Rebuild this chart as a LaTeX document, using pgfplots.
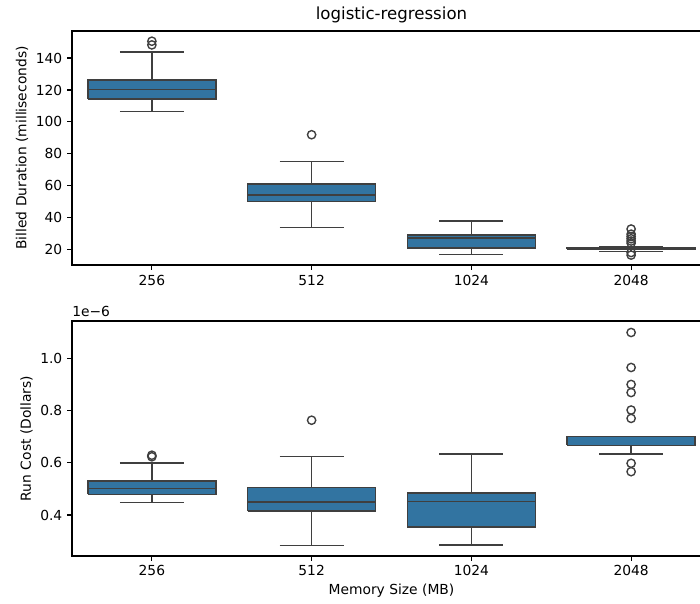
\documentclass[border=0pt]{standalone}
\usepackage{fontspec}
\setmainfont{DejaVu Sans}
\usepackage{pgfplots}
\pgfplotsset{compat=1.18}
\definecolor{sbblue}{HTML}{3274A1}
\definecolor{boxline}{HTML}{3F3F3F}
\pgfplotsset{
  myaxis/.style={
    scale only axis, width=461.81pt,
    xmin=-0.5, xmax=3.5,
    xtick={0,1,2,3}, xticklabels={256,512,1024,2048},
    tick align=outside, xtick pos=bottom, ytick pos=left,
    major tick length=3.5pt,
    axis line style={line width=0.8pt, black},
    every tick/.style={black, line width=0.8pt},
    tick label style={font=\fontsize{10}{12}\selectfont},
    label style={font=\fontsize{10}{12}\selectfont},
    /pgf/number format/assume math mode=true,
    ylabel style={at={(axis description cs:0,0.5)}, anchor=center},
  },
  bx/.style={fill=sbblue, draw=boxline, line width=1.1pt, mark=none},
  ln/.style={draw=boxline, line width=1.1pt, mark=none},
  myout/.style={only marks, mark=o, mark size=3pt, mark options={draw=boxline, fill=none, line width=1pt, solid}},
}
\begin{document}
\begin{tikzpicture}
\begin{axis}[myaxis, name=topax, at={(52.03pt,-22.40pt)}, anchor=north west,
  height=169.11pt, ymin=10.5, ymax=156.9, ytick={20,40,60,80,100,120,140},
  ylabel={Billed Duration (milliseconds)},
  ylabel style={yshift=36.1pt},
  title={logistic-regression},
  title style={at={(axis description cs:0.5,1)}, anchor=base, yshift=2pt, font=\fontsize{12}{14}\selectfont},
]
% 256
\addplot[ln] coordinates {(0,106.4) (0,143.75)};
\addplot[ln] coordinates {(-0.2,106.4) (0.2,106.4)};
\addplot[ln] coordinates {(-0.2,143.75) (0.2,143.75)};
\addplot[bx] coordinates {(-0.4,114.4) (0.4,114.4) (0.4,126.4) (-0.4,126.4) (-0.4,114.4)};
\addplot[ln] coordinates {(-0.4,120.4) (0.4,120.4)};
% 512
\addplot[ln] coordinates {(1,34) (1,75.2)};
\addplot[ln] coordinates {(0.8,34) (1.2,34)};
\addplot[ln] coordinates {(0.8,75.2) (1.2,75.2)};
\addplot[bx] coordinates {(0.6,50.2) (1.4,50.2) (1.4,61.25) (0.6,61.25) (0.6,50.2)};
\addplot[ln] coordinates {(0.6,54.2) (1.4,54.2)};
% 1024
\addplot[ln] coordinates {(2,17) (2,38.1)};
\addplot[ln] coordinates {(1.8,17) (2.2,17)};
\addplot[ln] coordinates {(1.8,38.1) (2.2,38.1)};
\addplot[bx] coordinates {(1.6,21) (2.4,21) (2.4,29.4) (1.6,29.4) (1.6,21)};
\addplot[ln] coordinates {(1.6,27.3) (2.4,27.3)};
% 2048
\addplot[ln] coordinates {(3,19) (3,21.6)};
\addplot[ln] coordinates {(2.8,19) (3.2,19)};
\addplot[ln] coordinates {(2.8,21.6) (3.2,21.6)};
\addplot[bx] coordinates {(2.6,20.2) (3.4,20.2) (3.4,21.3) (2.6,21.3) (2.6,20.2)};
\addplot[ln] coordinates {(2.6,21) (3.4,21)};
% outliers
\addplot[myout] coordinates {(0,150.5) (0,148.2) (1,92) (3,33) (3,29.8) (3,28.3) (3,26.9) (3,25.5) (3,24.2) (3,18.3) (3,16.7)};
\end{axis}
\begin{axis}[myaxis, name=botax, at={(52.03pt,-231.99pt)}, anchor=north west,
  height=169.83pt, ymin=0.243, ymax=1.143, ytick={0.4,0.6,0.8,1.0},
  yticklabel style={/pgf/number format/.cd, fixed, fixed zerofill, precision=1},
  ylabel={Run Cost (Dollars)},
  ylabel style={yshift=32.9pt},
  xlabel={Memory Size (MB)},
  xlabel style={at={(axis description cs:0.5,0)}, anchor=center, yshift=-25.3pt},
]
% 256
\addplot[ln] coordinates {(0,0.447) (0,0.600)};
\addplot[ln] coordinates {(-0.2,0.447) (0.2,0.447)};
\addplot[ln] coordinates {(-0.2,0.600) (0.2,0.600)};
\addplot[bx] coordinates {(-0.4,0.479) (0.4,0.479) (0.4,0.530) (-0.4,0.530) (-0.4,0.479)};
\addplot[ln] coordinates {(-0.4,0.502) (0.4,0.502)};
% 512
\addplot[ln] coordinates {(1,0.283) (1,0.624)};
\addplot[ln] coordinates {(0.8,0.283) (1.2,0.283)};
\addplot[ln] coordinates {(0.8,0.624) (1.2,0.624)};
\addplot[bx] coordinates {(0.6,0.415) (1.4,0.415) (1.4,0.506) (0.6,0.506) (0.6,0.415)};
\addplot[ln] coordinates {(0.6,0.449) (1.4,0.449)};
% 1024
\addplot[ln] coordinates {(2,0.285) (2,0.634)};
\addplot[ln] coordinates {(1.8,0.285) (2.2,0.285)};
\addplot[ln] coordinates {(1.8,0.634) (2.2,0.634)};
\addplot[bx] coordinates {(1.6,0.355) (2.4,0.355) (2.4,0.485) (1.6,0.485) (1.6,0.355)};
\addplot[ln] coordinates {(1.6,0.451) (2.4,0.451)};
% 2048
\addplot[ln] coordinates {(3,0.634) (3,0.701)};
\addplot[ln] coordinates {(2.8,0.634) (3.2,0.634)};
\addplot[bx] coordinates {(2.6,0.667) (3.4,0.667) (3.4,0.701) (2.6,0.701) (2.6,0.667)};
\addplot[ln] coordinates {(2.6,0.667) (3.4,0.667)};
% outliers
\addplot[myout] coordinates {(0,0.629) (0,0.623) (1,0.763) (3,1.099) (3,0.965) (3,0.900) (3,0.869) (3,0.802) (3,0.770) (3,0.598) (3,0.566)};
\end{axis}
\node[anchor=base west, font=\fontsize{10}{12}\selectfont, inner sep=0pt] at ([yshift=3.6pt]botax.north west) {1e−6};
\pgfresetboundingbox
\path[use as bounding box] (0pt,0pt) rectangle (505.89pt,-436.51pt);
\end{tikzpicture}
\end{document}
